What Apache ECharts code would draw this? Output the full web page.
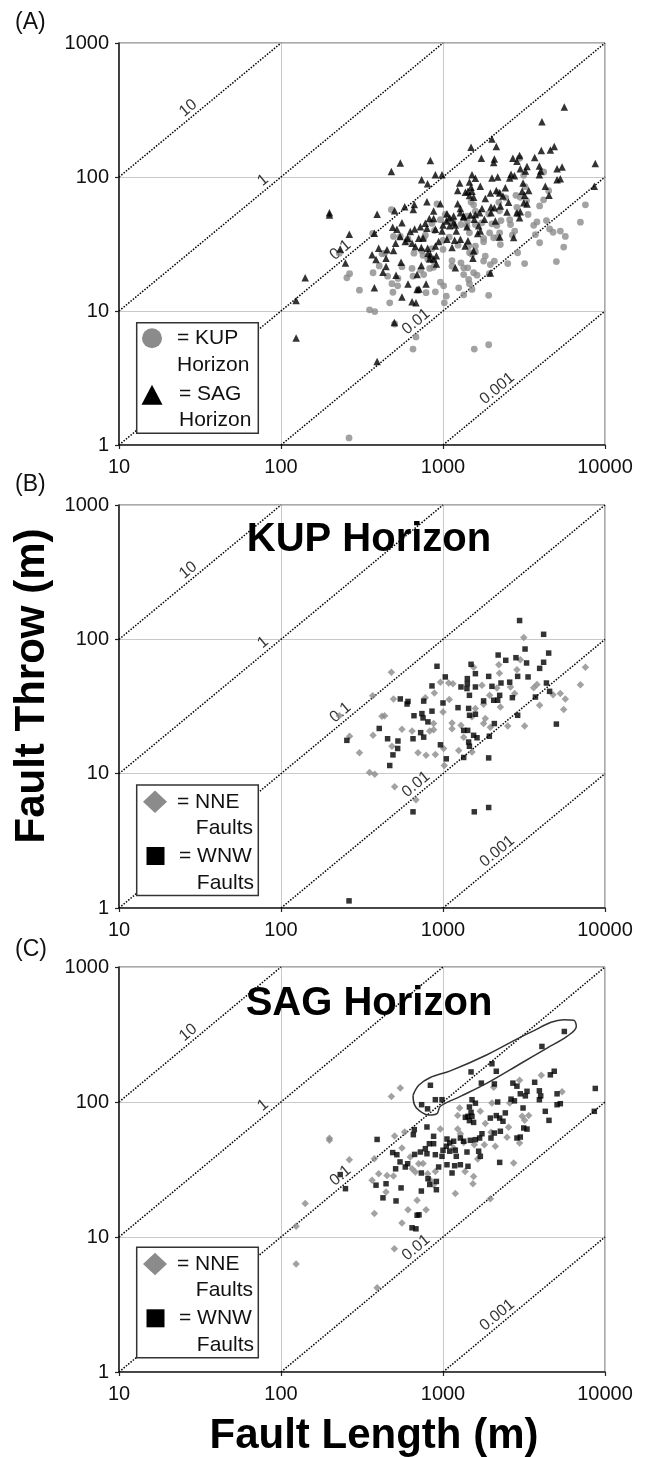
<!DOCTYPE html>
<html><head><meta charset="utf-8">
<script src="https://cdn.jsdelivr.net/npm/echarts@6/dist/echarts.min.js"></script>
<style>html,body{margin:0;padding:0;background:#fff}#c{width:653px;height:1457px}</style>
</head><body><div id="c"></div>
<script>
// ---------- data ----------
const xTickLabels = ['10', '100', '1000', '10000'];
const yTickLabels = ['1', '10', '100', '1000'];
const ratios = [10, 1, 0.1, 0.01, 0.001];
const ratioLabels = ['10', '1', '0.1', '0.01', '0.001'];
const ratioLabelL = [29, 84, 253, 740, 2345];
const panelLabels = ['(A)', '(B)', '(C)'];
const panelTitles = ['', 'KUP Horizon', 'SAG Horizon'];
const legendTextsA = ['= KUP', 'Horizon', '= SAG', 'Horizon'];
const legendTextsBC = ['= NNE', 'Faults', '= WNW', 'Faults'];
const xAxisTitle = 'Fault Length (m)';
const yAxisTitle = 'Fault Throw (m)';

// KUP horizon, NNE faults [length, throw]
const kupNNE = [[480,57],[368,38],[495,36],[229,27],[420,26.7],[436,27],[265,19],[370,19.3],[558,21.4],[644,20.8],
 [305,14.3],[484,16],[352,10.2],[379,9.9],[503,8],[701,14.3],[786,13.7],[681,6.4],[778,36.8],[828,20.8],
 [3150,103],[7570,62],[7050,46],[5690,36],[5560,30],[5300,39.5],[4780,38.7],[3950,32.3],[3630,43.6],[3800,46.2],
 [3190,22.6],[2510,22.6],[2210,64.7],[2230,56],[2860,59.4],[3000,70.6],[2150,43.5],[2260,31.3],[2610,44.2],[2770,39.5],
 [1545,62],[1740,45.5],[1781,32.8],[1940,38.3],[1585,30.5],[1510,26.5],[1824,25.7],[1960,22.2],[1781,23.6],[1152,46.8],
 [1084,47.3],[964,48],[1093,35.6],[1000,28.8],[1137,23.8],[1137,21.6],[1291,22.9],[1342,18.7],[1250,14.9],[1510,14.5],
 [1009,15.4],[1019,11.5],[897,13.9],[875,23.6],[885,39.8],[875,21.2]];
// KUP horizon, WNW faults
const kupWNW = [[545,36],[608,34.5],[600,33],[760,34.7],[662,27],[741,28],[753,26],[807,24.3],[404,21.7],[455,18.2],
 [527,17.5],[491,13.8],[525,15.4],[469,11.5],[255,17.7],[653,18.2],[728,20.2],[760,18.7],[653,5.2],[263,1.13],
 [2970,138],[4180,109],[3210,84.7],[4490,79],[2190,76.4],[2440,69.8],[2820,73],[1490,65.2],[1585,55.5],[918,63],
 [3280,66.7],[4180,67.5],[3950,60.8],[2890,53],[3350,52.5],[4350,47.3],[4550,41],[3720,37.2],[2680,36.8],[1914,53],
 [2005,44.7],[2280,47.3],[2580,48],[1413,51],[1413,46.8],[1405,43],[1456,38.3],[1291,44.2],[1585,44.2],[1033,52.5],
 [855,45],[1000,33.6],[1238,31],[1440,30.6],[1458,27.2],[1781,34.8],[2055,35.2],[2175,35.2],[2238,38.3],[855,29.2],
 [1585,27.7],[2890,27.2],[2075,23.6],[1932,19],[1342,21],[1420,21],[1545,19.3],[1622,18.5],[1440,17.2],[1456,16],
 [964,16.4],[1048,12.9],[1342,13.2],[1914,13.1],[5010,23.4],[1560,5.2],[1914,5.6]];
// SAG horizon, NNE faults
const sagNNE = [[480,110],[545,127],[199,54],[199,52],[264,37.4],[377,38],[503,56],[580,60],[558,45.6],[401,29.4],
 [451,28.6],[495,28.3],[365,26.3],[445,21.5],[377,14.9],[141,17.7],[124,12],[124,6.3],[501,8.2],[392,4.2],
 [608,15.9],[558,12.7],[692,18.7],[786,15.9],[644,32],[675,30.3],[708,34.9],[753,35],[804,29.4],[836,26.3],[628,39.2],
 [4045,158],[2970,145],[5430,119],[2055,128.5],[2005,98.3],[2580,98.3],[1267,90.3],[1232,79.3],[1700,85.3],[3380,79.3],
 [3080,78.3],[3190,73.1],[1824,69.2],[2540,64.9],[1232,63.1],[963,63.1],[1280,58.2],[1978,59.6],[2483,54.7],[2970,49.7],
 [1800,48.3],[2104,47],[1560,48.3],[1342,50.2],[1163,45.6],[1637,37.8],[1369,30.6],[1545,28.1],[1530,24.8],[1191,21],
 [1960,19.2],[2730,35.3],[875,24.4],[897,30.6]];
// SAG horizon, WNW faults
const sagWNW = [[836,133],[738,95.5],[803,89],[392,52.8],[489,42.2],[519,40.7],[543,36],[510,32],[585,33],[232,29],
 [250,22.8],[386,24.2],[445,24.8],[551,23.1],[426,19.5],[513,18.5],[735,21.9],[692,14.5],[711,14.6],[644,11.7],
 [681,11.5],[665,62.4],[656,57.3],[796,65.3],[824,49.1],[778,45.1],[725,42.6],[668,40.9],[605,34.9],[796,41.4],
 [735,29.8],[808,27],[828,24.5],
 [5610,333],[4080,258],[2005,192],[2133,169],[1490,167],[1725,138],[2075,136],[897,104],[986,104],[4860,169],
 [4600,159],[3680,140],[3935,121],[4010,111],[3935,104],[5060,115],[5060,95.5],[5300,97.2],[4280,85.3],[4510,73.1],
 [8710,126],[8590,85.3],[2700,138],[2860,131],[3300,120],[3225,111],[3000,115],[2630,105],[2760,102],[2175,100],
 [1510,104],[1585,98],[1456,91.8],[1490,83.8],[1426,78.3],[1510,78.3],[1456,72.8],[1545,70.6],[1374,77],[1960,76],
 [2133,79.3],[2238,76],[2425,83],[2345,72],[3120,90.3],[3150,64.2],[3300,63],[2860,54.1],[3000,55],[2260,60.7],
 [2075,58.9],[1978,54.1],[1740,58.2],[1683,54.1],[1585,52.6],[1475,52],[1342,51.2],[1280,54.1],[1163,51.2],[1100,49.7],
 [1058,53.2],[1049,47],[1000,43.9],[875,55.7],[875,49.1],[897,40.7],[986,39.6],[1100,43.2],[1191,43.9],[1208,39.6],
 [1406,42.6],[1660,43.2],[1700,39.6],[1058,34.3],[1180,33.7],[1280,34.3],[1426,33.4],[940,33],[1137,29.8],[910,25.8],
 [910,22.4],[2238,35.7]];
// outline drawn around the high-throw SAG WNW faults (data coordinates)
const sagOutline = [[653,112],[665,96],[708,87],[816,80],[918,82],[963,93],[1280,110],[1870,138],[3000,192],[4390,251],
 [5820,306],[6650,363],[6410,403],[5560,407],[3460,328],[1870,224],[1110,170],[835,152],[708,133],[653,112]];

// ---------- layout ----------
const FONT = '"Liberation Sans", Arial, Helvetica, sans-serif';
const gridLeft = 119, gridWidth = 486;
const gridTops = [43, 505, 967];
const gridHeights = [402, 403, 405];
const GRAY = '#8b8b8b';

const grids = [], xAxes = [], yAxes = [], series = [];
for (let i = 0; i < 3; i++) {
  grids.push({left: gridLeft, top: gridTops[i], width: gridWidth, height: gridHeights[i],
    show: true, borderColor: '#555', borderWidth: 1, backgroundColor: 'transparent'});
  xAxes.push({type: 'log', logBase: 10, min: 10, max: 10000, gridIndex: i,
    axisLine: {show: true, lineStyle: {color: '#222', width: 1.6}},
    axisTick: {show: true, length: 4, lineStyle: {color: '#222', width: 1.2}},
    minorTick: {show: false},
    splitLine: {show: true, lineStyle: {color: '#c9c9c9', width: 1}},
    axisLabel: {margin: 12, fontSize: 20, color: '#111', fontFamily: FONT,
      formatter: v => xTickLabels[Math.round(Math.log10(v)) - 1]}});
  yAxes.push({type: 'log', logBase: 10, min: 1, max: 1000, gridIndex: i,
    axisLine: {show: true, lineStyle: {color: '#222', width: 1.6}},
    axisTick: {show: true, length: 4, lineStyle: {color: '#222', width: 1.2}},
    minorTick: {show: false},
    splitLine: {show: true, lineStyle: {color: '#c9c9c9', width: 1}},
    axisLabel: {margin: 10, fontSize: 20, color: '#111', fontFamily: FONT,
      formatter: v => yTickLabels[Math.round(Math.log10(v))]}});
  // constant throw/length ratio lines
  ratios.forEach(r => {
    const L0 = Math.max(10, 1 / r), L1 = Math.min(10000, 1000 / r);
    series.push({type: 'line', xAxisIndex: i, yAxisIndex: i, symbol: 'none', silent: true, z: 2,
      data: [[L0, r * L0], [L1, r * L1]],
      lineStyle: {color: '#000', width: 1.5, type: [1.5, 1.5]}});
  });
  series.push({type: 'scatter', xAxisIndex: i, yAxisIndex: i, symbolSize: 0, silent: true, z: 3,
    data: ratios.map((r, k) => ({value: [ratioLabelL[k], r * ratioLabelL[k]], name: ratioLabels[k]})),
    label: {show: true, formatter: '{b}', rotate: 39.7, offset: [0, -9], position: 'inside',
      fontSize: 16, color: '#000', fontFamily: FONT}});
}
const kupAll = kupNNE.concat(kupWNW);
const sagAll = sagNNE.concat(sagWNW);
series.push({name: 'KUP', type: 'scatter', xAxisIndex: 0, yAxisIndex: 0, data: kupAll, symbol: 'circle', symbolSize: 6.8,
  itemStyle: {color: GRAY}, z: 5});
series.push({name: 'SAG', type: 'scatter', xAxisIndex: 0, yAxisIndex: 0, data: sagAll, symbol: 'triangle', symbolSize: 7.5,
  itemStyle: {color: '#000'}, z: 6});
series.push({name: 'NNE', type: 'scatter', xAxisIndex: 1, yAxisIndex: 1, data: kupNNE, symbol: 'diamond', symbolSize: 7.5,
  itemStyle: {color: GRAY}, z: 5});
series.push({name: 'WNW', type: 'scatter', xAxisIndex: 1, yAxisIndex: 1, data: kupWNW, symbol: 'rect', symbolSize: 5.5,
  itemStyle: {color: '#000'}, z: 6});
series.push({name: 'NNE', type: 'scatter', xAxisIndex: 2, yAxisIndex: 2, data: sagNNE, symbol: 'diamond', symbolSize: 7.5,
  itemStyle: {color: GRAY}, z: 5});
series.push({name: 'WNW', type: 'scatter', xAxisIndex: 2, yAxisIndex: 2, data: sagWNW, symbol: 'rect', symbolSize: 5.5,
  itemStyle: {color: '#000'}, z: 6});
series.push({type: 'line', xAxisIndex: 2, yAxisIndex: 2, data: sagOutline, symbol: 'none', smooth: 0.35, silent: true,
  lineStyle: {color: '#333', width: 1.5}, z: 7});

// ---------- graphic texts & legends ----------
const graphic = [];
const txt = (x, y, text, size, opts = {}) => Object.assign({type: 'text', x, y, z: 100,
  style: Object.assign({text, fontSize: size, fontFamily: FONT, fill: '#111', align: 'left', verticalAlign: 'middle'}, opts.style || {})},
  opts.el || {});
const legendTops = [322.7, 785, 1247.3];
panelLabels.forEach((t, i) => graphic.push(txt(15, [23, 485, 950][i], t, 23)));
[null, 540, 1004].forEach((y, i) => { if (y) graphic.push(txt(369, y, panelTitles[i], 40, {style: {fontWeight: 'bold', align: 'center', fill: '#000'}})); });
graphic.push(txt(374, 1436, xAxisTitle, 42, {style: {fontWeight: 'bold', align: 'center', fill: '#000'}}));
graphic.push(txt(32, 686, yAxisTitle, 42, {style: {fontWeight: 'bold', align: 'center', fill: '#000'}, el: {rotation: Math.PI / 2}}));
legendTops.forEach((tY, i) => {
  graphic.push({type: 'rect', z: 90, shape: {x: 136.7, y: tY, width: 121.6, height: 110.5},
    style: {fill: '#fff', stroke: '#333', lineWidth: 1.5}});
  if (i === 0) {
    graphic.push({type: 'circle', z: 95, shape: {cx: 152, cy: tY + 15.5, r: 10}, style: {fill: GRAY}});
    graphic.push({type: 'polygon', z: 95, shape: {points: [[152, tY + 62], [141.5, tY + 82], [162.5, tY + 82]]}, style: {fill: '#000'}});
    graphic.push(txt(177, tY + 15.5, legendTextsA[0], 21));
    graphic.push(txt(177, tY + 42.5, legendTextsA[1], 21));
    graphic.push(txt(179, tY + 72, legendTextsA[2], 21));
    graphic.push(txt(179, tY + 98, legendTextsA[3], 21));
  } else {
    graphic.push({type: 'polygon', z: 95, shape: {points: [[155, tY + 5.5], [167, tY + 16.7], [155, tY + 28], [143, tY + 16.7]]}, style: {fill: GRAY}});
    graphic.push({type: 'rect', z: 95, shape: {x: 146.5, y: tY + 62, width: 18, height: 18}, style: {fill: '#000'}});
    graphic.push(txt(177, tY + 17, legendTextsBC[0], 21));
    graphic.push(txt(253, tY + 43, legendTextsBC[1], 21, {style: {align: 'right'}}));
    graphic.push(txt(179, tY + 71, legendTextsBC[2], 21));
    graphic.push(txt(254, tY + 98, legendTextsBC[3], 21, {style: {align: 'right'}}));
  }
});

const chart = echarts.init(document.getElementById('c'), null, {renderer: 'canvas'});
chart.setOption({animation: false, backgroundColor: '#fff', grid: grids, xAxis: xAxes, yAxis: yAxes, series, graphic});
</script></body></html>
